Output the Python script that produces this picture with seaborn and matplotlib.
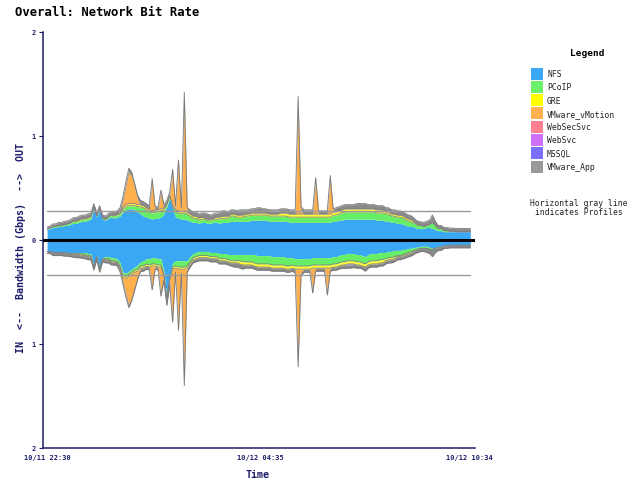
import numpy as np
import pandas as pd
import matplotlib
matplotlib.use("Agg")
import matplotlib.pyplot as plt
import seaborn as sns
from matplotlib.patches import Rectangle

# ---------------- data (Gbps, 5-minute samples) ----------------
times = pd.date_range("2023-10-11 22:30", periods=146, freq="5min")

services = ["NFS", "PCoIP", "GRE", "VMware_vMotion", "WebSecSvc", "WebSvc", "MSSQL", "VMware_App"]
legend_colors = ["#3aa8f8", "#6cf06c", "#ffff00", "#ffb050", "#ff8090", "#d070ff", "#7a70ff", "#9a9a9a"]
fill_colors = ["#3aa8f5", "#66ee66", "#ffff33", "#ffb04c", "#ff8090", "#d070ff", "#7a70ff", "#8a8a8a"]

out_nfs = [0.10, 0.11, 0.12, 0.12, 0.13, 0.13, 0.14, 0.14, 0.15, 0.16,
           0.16, 0.17, 0.18, 0.18, 0.19, 0.20, 0.31, 0.22, 0.29, 0.20,
           0.19, 0.21, 0.22, 0.21, 0.22, 0.23, 0.27, 0.29, 0.30, 0.30,
           0.29, 0.27, 0.25, 0.23, 0.22, 0.21, 0.20, 0.21, 0.21, 0.22,
           0.25, 0.32, 0.40, 0.30, 0.22, 0.21, 0.20, 0.20, 0.19, 0.18,
           0.17, 0.17, 0.16, 0.17, 0.17, 0.16, 0.16, 0.17, 0.17, 0.16,
           0.17, 0.17, 0.17, 0.18, 0.18, 0.18, 0.18, 0.18, 0.18, 0.18,
           0.19, 0.19, 0.19, 0.19, 0.19, 0.19, 0.18, 0.18, 0.18, 0.18,
           0.18, 0.18, 0.18, 0.17, 0.17, 0.17, 0.17, 0.17, 0.17, 0.17,
           0.17, 0.17, 0.17, 0.17, 0.17, 0.17, 0.17, 0.17, 0.18, 0.18,
           0.19, 0.19, 0.20, 0.20, 0.20, 0.20, 0.20, 0.20, 0.20, 0.20,
           0.20, 0.20, 0.20, 0.19, 0.19, 0.19, 0.18, 0.18, 0.17, 0.17,
           0.16, 0.16, 0.15, 0.14, 0.13, 0.13, 0.12, 0.11, 0.11, 0.11,
           0.12, 0.12, 0.11, 0.10, 0.09, 0.09, 0.08, 0.08, 0.08, 0.08,
           0.08, 0.08, 0.08, 0.08, 0.08, 0.08]
out_pcoip = [0.005, 0.005, 0.01, 0.01, 0.01, 0.01, 0.01, 0.015, 0.015, 0.02,
             0.02, 0.02, 0.02, 0.02, 0.02, 0.02, 0.01, 0.01, 0.01, 0.01,
             0.01, 0.015, 0.02, 0.02, 0.02, 0.02, 0.03, 0.03, 0.03, 0.03,
             0.04, 0.05, 0.07, 0.08, 0.07, 0.06, 0.06, 0.06, 0.06, 0.06,
             0.04, 0.02, 0.02, 0.02, 0.05, 0.05, 0.05, 0.06, 0.06, 0.05,
             0.04, 0.04, 0.03, 0.03, 0.03, 0.03, 0.03, 0.03, 0.03, 0.04,
             0.04, 0.04, 0.04, 0.05, 0.05, 0.04, 0.04, 0.04, 0.05, 0.05,
             0.05, 0.05, 0.05, 0.05, 0.05, 0.05, 0.05, 0.05, 0.05, 0.05,
             0.05, 0.05, 0.05, 0.05, 0.05, 0.05, 0.05, 0.05, 0.05, 0.05,
             0.05, 0.05, 0.05, 0.05, 0.05, 0.05, 0.05, 0.05, 0.06, 0.06,
             0.06, 0.07, 0.07, 0.07, 0.07, 0.07, 0.07, 0.07, 0.07, 0.07,
             0.07, 0.07, 0.07, 0.07, 0.07, 0.07, 0.07, 0.07, 0.06, 0.06,
             0.06, 0.06, 0.06, 0.05, 0.05, 0.04, 0.04, 0.03, 0.03, 0.02,
             0.02, 0.03, 0.06, 0.04, 0.02, 0.02, 0.01, 0.01, 0.005, 0.005,
             0.0, 0.0, 0.0, 0.0, 0.0, 0.0]
out_gre = [0.0, 0.0, 0.0, 0.0, 0.0, 0.0, 0.0, 0.0, 0.0, 0.005,
           0.005, 0.01, 0.01, 0.01, 0.01, 0.01, 0.0, 0.0, 0.0, 0.0,
           0.0, 0.0, 0.005, 0.01, 0.01, 0.01, 0.02, 0.02, 0.02, 0.02,
           0.02, 0.02, 0.02, 0.02, 0.02, 0.02, 0.02, 0.02, 0.02, 0.02,
           0.02, 0.01, 0.01, 0.01, 0.02, 0.02, 0.02, 0.02, 0.02, 0.02,
           0.02, 0.02, 0.02, 0.02, 0.01, 0.01, 0.01, 0.01, 0.02, 0.02,
           0.02, 0.02, 0.02, 0.02, 0.02, 0.02, 0.02, 0.02, 0.02, 0.02,
           0.02, 0.02, 0.02, 0.02, 0.02, 0.02, 0.02, 0.02, 0.02, 0.02,
           0.03, 0.03, 0.03, 0.03, 0.03, 0.03, 0.03, 0.03, 0.03, 0.03,
           0.03, 0.03, 0.03, 0.03, 0.03, 0.03, 0.03, 0.03, 0.03, 0.03,
           0.03, 0.03, 0.03, 0.03, 0.03, 0.03, 0.03, 0.03, 0.03, 0.03,
           0.03, 0.03, 0.03, 0.03, 0.03, 0.03, 0.02, 0.02, 0.02, 0.02,
           0.02, 0.02, 0.02, 0.02, 0.02, 0.02, 0.01, 0.01, 0.005, 0.0,
           0.0, 0.0, 0.0, 0.0, 0.0, 0.0, 0.0, 0.0, 0.0, 0.0,
           0.0, 0.0, 0.0, 0.0, 0.0, 0.0]
out_vmotion = [0.0, 0.0, 0.0, 0.0, 0.0, 0.0, 0.0, 0.0, 0.0, 0.0,
               0.0, 0.0, 0.0, 0.0, 0.0, 0.0, 0.0, 0.0, 0.0, 0.0,
               0.0, 0.0, 0.0, 0.0, 0.0, 0.02, 0.06, 0.18, 0.30, 0.26,
               0.15, 0.05, 0.0, 0.0, 0.0, 0.0, 0.28, 0.0, 0.0, 0.15,
               0.0, 0.0, 0.0, 0.32, 0.0, 0.45, 0.0, 1.01, 0.0, 0.0,
               0.0, 0.0, 0.0, 0.0, 0.0, 0.0, 0.0, 0.0, 0.0, 0.0,
               0.0, 0.0, 0.0, 0.0, 0.0, 0.0, 0.0, 0.0, 0.0, 0.0,
               0.0, 0.0, 0.0, 0.0, 0.0, 0.0, 0.0, 0.0, 0.0, 0.0,
               0.0, 0.0, 0.0, 0.0, 0.0, 0.0, 0.99, 0.03, 0.0, 0.0,
               0.0, 0.0, 0.32, 0.0, 0.0, 0.0, 0.0, 0.34, 0.0, 0.0,
               0.0, 0.0, 0.0, 0.0, 0.0, 0.0, 0.0, 0.0, 0.0, 0.0,
               0.0, 0.0, 0.0, 0.0, 0.0, 0.0, 0.0, 0.0, 0.0, 0.0,
               0.0, 0.0, 0.0, 0.0, 0.0, 0.0, 0.0, 0.0, 0.0, 0.0,
               0.0, 0.0, 0.0, 0.0, 0.0, 0.0, 0.0, 0.0, 0.0, 0.0,
               0.0, 0.0, 0.0, 0.0, 0.0, 0.0]
out_websecsvc = [0.0] * 146
out_websvc = [0.0] * 146
out_mssql = [0.0] * 146
out_app = [0.02, 0.02, 0.025, 0.025, 0.03, 0.03, 0.03, 0.03, 0.03, 0.03,
           0.03, 0.03, 0.03, 0.03, 0.03, 0.03, 0.03, 0.03, 0.03, 0.03,
           0.03, 0.03, 0.03, 0.03, 0.03, 0.03, 0.04, 0.04, 0.04, 0.04,
           0.04, 0.04, 0.04, 0.04, 0.04, 0.04, 0.03, 0.03, 0.03, 0.03,
           0.03, 0.03, 0.03, 0.03, 0.04, 0.04, 0.04, 0.13, 0.04, 0.04,
           0.04, 0.04, 0.04, 0.04, 0.05, 0.05, 0.04, 0.04, 0.04, 0.04,
           0.05, 0.05, 0.04, 0.04, 0.04, 0.04, 0.05, 0.05, 0.04, 0.04,
           0.04, 0.04, 0.05, 0.05, 0.04, 0.04, 0.04, 0.04, 0.04, 0.04,
           0.04, 0.04, 0.04, 0.04, 0.04, 0.04, 0.14, 0.04, 0.04, 0.04,
           0.04, 0.04, 0.03, 0.03, 0.03, 0.03, 0.03, 0.03, 0.03, 0.04,
           0.04, 0.04, 0.04, 0.04, 0.04, 0.04, 0.05, 0.05, 0.05, 0.05,
           0.04, 0.04, 0.04, 0.04, 0.04, 0.04, 0.04, 0.04, 0.04, 0.04,
           0.04, 0.04, 0.04, 0.04, 0.04, 0.04, 0.03, 0.03, 0.03, 0.04,
           0.04, 0.04, 0.07, 0.04, 0.03, 0.03, 0.03, 0.03, 0.03, 0.03,
           0.03, 0.03, 0.03, 0.03, 0.03, 0.03]

in_nfs = [0.11, 0.11, 0.12, 0.12, 0.12, 0.12, 0.12, 0.12, 0.12, 0.12,
          0.12, 0.12, 0.12, 0.12, 0.13, 0.13, 0.25, 0.15, 0.27, 0.17,
          0.16, 0.16, 0.17, 0.17, 0.18, 0.22, 0.31, 0.32, 0.30, 0.28,
          0.26, 0.24, 0.21, 0.20, 0.18, 0.18, 0.17, 0.17, 0.18, 0.18,
          0.30, 0.55, 0.35, 0.22, 0.20, 0.20, 0.20, 0.20, 0.20, 0.16,
          0.13, 0.12, 0.11, 0.11, 0.11, 0.11, 0.12, 0.12, 0.12, 0.13,
          0.13, 0.13, 0.14, 0.14, 0.14, 0.14, 0.14, 0.14, 0.14, 0.14,
          0.14, 0.14, 0.15, 0.15, 0.15, 0.15, 0.15, 0.16, 0.16, 0.16,
          0.16, 0.16, 0.17, 0.17, 0.17, 0.18, 0.18, 0.18, 0.18, 0.18,
          0.18, 0.17, 0.17, 0.17, 0.17, 0.17, 0.17, 0.17, 0.16, 0.16,
          0.15, 0.14, 0.14, 0.13, 0.13, 0.13, 0.14, 0.14, 0.15, 0.16,
          0.14, 0.13, 0.13, 0.13, 0.12, 0.12, 0.12, 0.11, 0.11, 0.10,
          0.10, 0.10, 0.09, 0.09, 0.08, 0.08, 0.07, 0.07, 0.06, 0.06,
          0.06, 0.07, 0.08, 0.07, 0.06, 0.06, 0.05, 0.05, 0.05, 0.05,
          0.05, 0.05, 0.05, 0.05, 0.05, 0.05]
in_pcoip = [0.0, 0.0, 0.0, 0.0, 0.0, 0.0, 0.005, 0.005, 0.01, 0.01,
            0.01, 0.01, 0.015, 0.02, 0.02, 0.02, 0.01, 0.01, 0.01, 0.01,
            0.02, 0.02, 0.03, 0.03, 0.03, 0.03, 0.03, 0.03, 0.03, 0.03,
            0.03, 0.04, 0.04, 0.05, 0.05, 0.06, 0.06, 0.06, 0.06, 0.06,
            0.02, 0.01, 0.02, 0.04, 0.05, 0.06, 0.06, 0.06, 0.05, 0.05,
            0.04, 0.04, 0.04, 0.04, 0.04, 0.04, 0.04, 0.04, 0.04, 0.05,
            0.05, 0.05, 0.05, 0.06, 0.06, 0.06, 0.06, 0.07, 0.07, 0.07,
            0.07, 0.08, 0.08, 0.08, 0.08, 0.08, 0.08, 0.08, 0.08, 0.08,
            0.08, 0.08, 0.08, 0.08, 0.07, 0.07, 0.07, 0.07, 0.07, 0.07,
            0.07, 0.07, 0.07, 0.07, 0.07, 0.07, 0.07, 0.07, 0.07, 0.07,
            0.07, 0.07, 0.07, 0.07, 0.07, 0.07, 0.07, 0.07, 0.07, 0.07,
            0.07, 0.07, 0.07, 0.07, 0.07, 0.07, 0.06, 0.06, 0.06, 0.06,
            0.05, 0.05, 0.05, 0.04, 0.04, 0.03, 0.03, 0.02, 0.02, 0.02,
            0.02, 0.02, 0.01, 0.01, 0.01, 0.01, 0.005, 0.005, 0.0, 0.0,
            0.0, 0.0, 0.0, 0.0, 0.0, 0.0]
in_gre = [0.0, 0.0, 0.0, 0.0, 0.0, 0.0, 0.0, 0.0, 0.0, 0.005,
          0.01, 0.01, 0.01, 0.01, 0.01, 0.01, 0.0, 0.0, 0.0, 0.0,
          0.01, 0.01, 0.01, 0.01, 0.01, 0.01, 0.02, 0.02, 0.02, 0.02,
          0.02, 0.02, 0.02, 0.02, 0.02, 0.02, 0.02, 0.02, 0.02, 0.02,
          0.02, 0.02, 0.02, 0.02, 0.02, 0.02, 0.02, 0.02, 0.02, 0.02,
          0.02, 0.02, 0.02, 0.02, 0.02, 0.02, 0.02, 0.02, 0.02, 0.02,
          0.02, 0.02, 0.02, 0.02, 0.02, 0.02, 0.03, 0.03, 0.03, 0.03,
          0.03, 0.03, 0.03, 0.03, 0.03, 0.03, 0.03, 0.03, 0.03, 0.03,
          0.03, 0.03, 0.03, 0.03, 0.03, 0.03, 0.03, 0.03, 0.03, 0.03,
          0.03, 0.03, 0.03, 0.03, 0.03, 0.03, 0.03, 0.03, 0.03, 0.03,
          0.03, 0.03, 0.03, 0.03, 0.03, 0.03, 0.03, 0.03, 0.03, 0.03,
          0.03, 0.03, 0.03, 0.03, 0.03, 0.03, 0.02, 0.02, 0.02, 0.02,
          0.01, 0.01, 0.01, 0.01, 0.01, 0.01, 0.0, 0.0, 0.0, 0.0,
          0.0, 0.0, 0.0, 0.0, 0.0, 0.0, 0.0, 0.0, 0.0, 0.0,
          0.0, 0.0, 0.0, 0.0, 0.0, 0.0]
in_vmotion = [0.0, 0.0, 0.0, 0.0, 0.0, 0.0, 0.0, 0.0, 0.0, 0.0,
              0.0, 0.0, 0.0, 0.0, 0.0, 0.0, 0.0, 0.0, 0.0, 0.0,
              0.0, 0.0, 0.0, 0.0, 0.0, 0.02, 0.04, 0.15, 0.27, 0.22,
              0.14, 0.05, 0.0, 0.0, 0.0, 0.0, 0.20, 0.0, 0.0, 0.25,
              0.0, 0.0, 0.0, 0.48, 0.0, 0.55, 0.0, 0.98, 0.0, 0.0,
              0.0, 0.0, 0.0, 0.0, 0.0, 0.0, 0.0, 0.0, 0.0, 0.0,
              0.0, 0.0, 0.0, 0.0, 0.0, 0.0, 0.0, 0.0, 0.0, 0.0,
              0.0, 0.0, 0.0, 0.0, 0.0, 0.0, 0.0, 0.0, 0.0, 0.0,
              0.0, 0.0, 0.0, 0.0, 0.0, 0.0, 0.84, 0.03, 0.0, 0.0,
              0.0, 0.21, 0.0, 0.0, 0.0, 0.0, 0.23, 0.0, 0.0, 0.0,
              0.0, 0.0, 0.0, 0.0, 0.0, 0.0, 0.0, 0.0, 0.0, 0.0,
              0.0, 0.0, 0.0, 0.0, 0.0, 0.0, 0.0, 0.0, 0.0, 0.0,
              0.0, 0.0, 0.0, 0.0, 0.0, 0.0, 0.0, 0.0, 0.0, 0.0,
              0.0, 0.0, 0.0, 0.0, 0.0, 0.0, 0.0, 0.0, 0.0, 0.0,
              0.0, 0.0, 0.0, 0.0, 0.0, 0.0]
in_websecsvc = [0.0] * 146
in_websvc = [0.0] * 146
in_mssql = [0.0, 0.0, 0.0, 0.0, 0.0, 0.0, 0.0, 0.0, 0.0, 0.0,
            0.0, 0.0, 0.0, 0.0, 0.0, 0.0, 0.0, 0.0, 0.0, 0.0,
            0.0, 0.0, 0.0, 0.0, 0.0, 0.0, 0.0, 0.0, 0.0, 0.0,
            0.0, 0.0, 0.0, 0.0, 0.0, 0.0, 0.0, 0.0, 0.0, 0.0,
            0.0, 0.0, 0.0, 0.0, 0.0, 0.0, 0.0, 0.0, 0.0, 0.0,
            0.0, 0.0, 0.0, 0.0, 0.0, 0.0, 0.0, 0.0, 0.0, 0.0,
            0.0, 0.0, 0.0, 0.0, 0.0, 0.0, 0.0, 0.0, 0.0, 0.0,
            0.0, 0.0, 0.0, 0.0, 0.0, 0.0, 0.0, 0.0, 0.0, 0.0,
            0.0, 0.0, 0.0, 0.0, 0.0, 0.0, 0.0, 0.0, 0.0, 0.0,
            0.0, 0.0, 0.0, 0.0, 0.0, 0.0, 0.0, 0.0, 0.0, 0.0,
            0.0, 0.0, 0.005, 0.01, 0.01, 0.005, 0.0, 0.0, 0.0, 0.0,
            0.0, 0.0, 0.0, 0.0, 0.0, 0.0, 0.0, 0.0, 0.0, 0.0,
            0.0, 0.0, 0.0, 0.0, 0.0, 0.0, 0.0, 0.0, 0.0, 0.0,
            0.0, 0.0, 0.0, 0.0, 0.0, 0.0, 0.0, 0.0, 0.0, 0.0,
            0.0, 0.0, 0.0, 0.0, 0.0, 0.0]
in_app = [0.02, 0.02, 0.03, 0.03, 0.03, 0.03, 0.03, 0.03, 0.03, 0.03,
          0.03, 0.03, 0.03, 0.03, 0.03, 0.03, 0.03, 0.03, 0.03, 0.03,
          0.03, 0.03, 0.03, 0.03, 0.03, 0.03, 0.03, 0.03, 0.03, 0.03,
          0.03, 0.03, 0.03, 0.03, 0.03, 0.03, 0.03, 0.03, 0.03, 0.03,
          0.05, 0.05, 0.05, 0.03, 0.04, 0.04, 0.04, 0.14, 0.04, 0.03,
          0.03, 0.03, 0.03, 0.03, 0.03, 0.03, 0.03, 0.03, 0.03, 0.03,
          0.03, 0.03, 0.03, 0.03, 0.04, 0.04, 0.04, 0.04, 0.03, 0.03,
          0.03, 0.03, 0.03, 0.03, 0.03, 0.03, 0.03, 0.03, 0.03, 0.03,
          0.03, 0.03, 0.03, 0.03, 0.03, 0.04, 0.10, 0.03, 0.03, 0.03,
          0.03, 0.03, 0.03, 0.03, 0.03, 0.03, 0.03, 0.03, 0.03, 0.03,
          0.03, 0.03, 0.03, 0.03, 0.03, 0.03, 0.03, 0.03, 0.03, 0.04,
          0.03, 0.03, 0.03, 0.03, 0.03, 0.03, 0.03, 0.03, 0.03, 0.03,
          0.03, 0.03, 0.03, 0.03, 0.03, 0.03, 0.03, 0.03, 0.03, 0.03,
          0.04, 0.04, 0.07, 0.04, 0.03, 0.03, 0.025, 0.025, 0.025, 0.025,
          0.025, 0.025, 0.025, 0.025, 0.025, 0.025]

profile_out = 0.28
profile_in = 0.34
profile_span = ["2023-10-11 22:30", "2023-10-12 10:34"]
tick_times = ["2023-10-11 22:30", "2023-10-12 04:35", "2023-10-12 10:34"]
tick_labels = ["10/11 22:30", "10/12 04:35", "10/12 10:34"]
y_ticks = [-2, -1, 0, 1, 2]
y_tick_labels = ["2", "1", "0", "1", "2"]

# ---------------- drawing ----------------
sns.set_style("white")
plt.rcParams["font.family"] = ["DejaVu Sans Mono", "DejaVu Sans"]
NAVY = "#1c1c6a"
W, H = 637, 481
fig = plt.figure(figsize=(W / 100, H / 100), dpi=100)
ax = fig.add_axes([43 / W, 1 - 449 / H, (475 - 43) / W, (449 - 33) / H])

out_layers = [out_nfs, out_pcoip, out_gre, out_vmotion, out_websecsvc, out_websvc, out_mssql, out_app]
in_layers = [in_nfs, in_pcoip, in_gre, in_vmotion, in_websecsvc, in_websvc, in_mssql, in_app]

for layers, sign in ((out_layers, 1), (in_layers, -1)):
    base = np.zeros(len(times))
    for k, (vals, col) in enumerate(zip(layers, fill_colors)):
        top = base + np.asarray(vals, dtype=float)
        ax.fill_between(times, sign * base, sign * top, color=col, lw=0, zorder=2)
        if k in (1, 2):
            ax.plot(times, sign * top, color="#808080", lw=0.6, zorder=3)
        base = top
    ax.plot(times, sign * base, color="#777777", lw=0.6, zorder=3)

span = pd.to_datetime(profile_span)
sns.lineplot(x=span, y=[profile_out, profile_out], color="#9a9a9a", lw=1.0, ax=ax, zorder=4)
sns.lineplot(x=span, y=[-profile_in, -profile_in], color="#9a9a9a", lw=1.0, ax=ax, zorder=4)
ax.axhline(0, color="black", lw=2.2, zorder=5)

ax.set_ylim(-2, 2)
ax.set_xlim(pd.Timestamp("2023-10-11 22:23"), pd.Timestamp("2023-10-12 10:43"))
ax.set_yticks(y_ticks)
ax.set_yticklabels(y_tick_labels, fontsize=5, color=NAVY, fontweight="bold")
ax.set_xticks(pd.to_datetime(tick_times))
ax.set_xticklabels(tick_labels, fontsize=5, color=NAVY, fontweight="bold")
ax.tick_params(axis="y", length=3, width=0.8, color=NAVY, pad=2, direction="out", left=True)
ax.tick_params(axis="x", length=0, pad=4)
for s in ("top", "right"):
    ax.spines[s].set_visible(False)
for s in ("left", "bottom"):
    ax.spines[s].set_color(NAVY)
    ax.spines[s].set_linewidth(1.1)
ax.set_xlabel("")
ax.set_ylabel("")

def fx(px):
    return px / W

def fy(py):
    return 1 - py / H

fig.text(fx(15), fy(13), "Overall: Network Bit Rate", fontsize=8.8, fontweight="bold",
         color="black", ha="left", va="center")
fig.text(fx(21), fy(248), "IN  <--  Bandwidth (Gbps)  -->  OUT", rotation=90, fontsize=7.2,
         fontweight="bold", color=NAVY, ha="center", va="center")
fig.text(fx(257), fy(475), "Time", fontsize=7.2, fontweight="bold", color=NAVY,
         ha="center", va="center")

# legend
fig.text(fx(587), fy(54), "Legend", fontsize=6.8, fontweight="bold", color="black",
         ha="center", va="center")
row_y = 74.5
for name, col in zip(services, legend_colors):
    fig.patches.append(Rectangle((fx(531), fy(row_y + 6)), 12 / W, 12 / H, transform=fig.transFigure,
                                 facecolor=col, edgecolor="none"))
    fig.text(fx(547), fy(row_y), name, fontsize=5.8, color="#222222", ha="left", va="center")
    row_y += 13.3
fig.text(fx(579), fy(208), "Horizontal gray line\nindicates Profiles", fontsize=5.8, color="#222222",
         ha="center", va="center", linespacing=1.1)

fig.savefig("out.png", dpi=100)
